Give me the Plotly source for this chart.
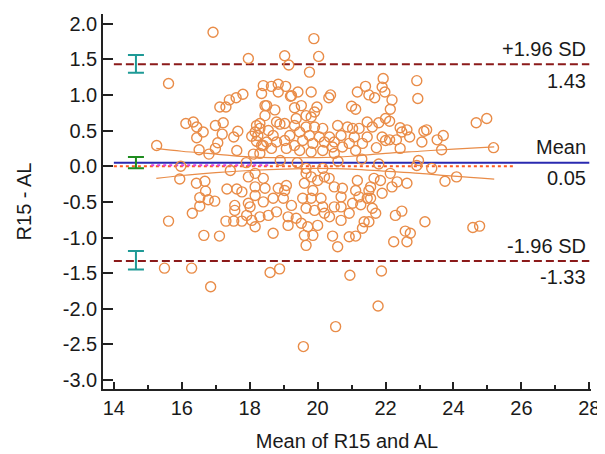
import plotly.graph_objects as go

# ---- data ----
mean_vals = [
    16.92, 17.96, 15.61, 19.89, 19.03, 20.03, 19.15, 19.76, 21.93, 22.92, 22.95, 21.90, 21.98, 22.19, 22.14,
    21.41, 21.51, 21.68, 21.17, 20.38, 20.33, 19.81, 21.00, 21.12, 18.40, 18.64, 18.84, 19.06, 18.84, 19.20,
    19.42, 18.35,
    17.80, 17.60, 17.40, 17.30, 17.12, 18.45, 18.45, 16.12, 16.34, 16.44, 16.63, 16.44, 16.99, 17.22, 17.19,
    17.06, 16.99, 17.53, 17.65, 16.51, 16.80, 17.62, 18.11, 15.26, 18.20, 18.30, 18.06, 18.24, 18.35, 18.20,
    19.23, 18.50, 18.74, 19.32, 19.52, 19.98, 19.91, 19.81, 19.66, 19.37, 18.30, 18.55, 18.79, 18.89, 19.03,
    18.50, 18.69, 18.79, 19.03, 19.18, 19.32, 19.47, 19.56, 19.32, 19.08, 19.66, 19.76, 19.91, 19.86, 20.05,
    20.15, 20.20, 20.35, 20.49, 20.59, 20.69, 20.88, 21.03, 21.22, 21.08, 21.46, 21.32, 20.93, 20.73, 20.44,
    19.81, 19.47, 18.64, 18.40, 18.30, 20.15, 21.12, 20.49, 18.16,
    24.67, 24.98, 22.00, 22.12, 21.80, 21.61, 21.46, 22.43, 22.63, 22.48, 23.21, 23.13, 23.70, 23.52, 23.07,
    22.71, 22.32, 22.12, 21.90, 22.00, 21.73, 22.43, 23.65, 25.18, 22.97, 22.92, 15.97,
    15.94, 16.43, 16.68, 16.70, 16.53, 16.78, 16.97, 16.53, 16.31, 15.61, 16.65, 17.11, 17.33, 17.43, 17.62,
    17.77, 17.96, 18.16, 18.16, 18.16, 17.56, 17.56, 17.96, 18.01, 17.91, 18.06, 18.16, 17.30, 17.53, 17.77,
    18.40, 18.45, 18.40, 18.69, 18.84, 19.08, 19.03, 18.99, 19.23, 18.79, 18.55, 18.30, 19.13, 19.13, 19.37,
    19.52, 19.66, 19.56, 19.61, 19.66, 19.81, 20.00, 20.15, 20.20, 20.34, 19.86, 20.10, 19.81, 19.91, 20.15,
    20.20, 20.35, 20.00, 19.71, 20.49, 20.73, 20.69, 20.49, 20.69, 20.93, 20.69, 21.12, 21.17, 21.22, 21.03,
    21.27, 21.46, 21.51, 21.37, 21.32, 18.69, 19.61, 19.86, 19.66, 20.44, 20.59, 20.93, 21.12,
    23.36, 23.75, 24.09, 21.66, 21.85, 22.14, 22.19, 22.34, 22.63, 21.90, 21.56, 21.56, 21.61, 21.71, 21.51,
    22.29, 22.48, 23.16, 22.58, 22.73, 22.24, 22.63, 24.57, 24.77,
    15.49, 16.29, 16.85, 18.60, 18.88, 20.95, 21.88, 21.78, 20.53, 19.58,
    18.90, 19.40, 20.60, 21.30, 17.90, 21.80, 19.66,
]
diff_vals = [
    1.88, 1.51, 1.16, 1.79, 1.55, 1.54, 1.42, 1.32, 1.23, 1.20, 0.95, 1.11, 1.04, 0.93, 0.80,
    1.12, 1.00, 0.96, 1.04, 1.00, 0.96, 1.04, 0.84, 0.80, 1.13, 1.12, 1.15, 1.12, 1.04, 0.98,
    1.04, 1.02,
    1.01, 0.96, 0.93, 0.83, 0.83, 0.85, 0.71, 0.60, 0.62, 0.55, 0.48, 0.40, 0.57, 0.61, 0.45,
    0.33, 0.25, 0.41, 0.49, 0.23, 0.17, 0.22, 0.17, 0.29, 0.57, 0.53, 0.42, 0.43, 0.29, 0.35,
    0.99, 0.85, 0.79, 0.82, 0.85, 0.83, 0.76, 0.69, 0.71, 0.67, 0.60, 0.50, 0.62, 0.59, 0.60,
    0.34, 0.43, 0.34, 0.36, 0.43, 0.57, 0.48, 0.36, 0.29, 0.25, 0.55, 0.43, 0.55, 0.32, 0.41,
    0.53, 0.34, 0.41, 0.34, 0.57, 0.43, 0.55, 0.53, 0.53, 0.41, 0.41, 0.32, 0.32, 0.27, 0.27,
    0.20, 0.22, 0.25, 0.29, 0.18, 0.22, 0.22, 0.18, 0.48,
    0.61, 0.67, 0.67, 0.63, 0.61, 0.55, 0.62, 0.54, 0.51, 0.48, 0.51, 0.49, 0.43, 0.37, 0.34,
    0.41, 0.37, 0.37, 0.41, 0.36, 0.26, 0.25, 0.23, 0.26, 0.08, 0.01, 0.00,
    -0.18, -0.24, -0.21, -0.35, -0.44, -0.47, -0.49, -0.56, -0.66, -0.77, -0.97, -0.98, -0.32, -0.06, -0.32,
    -0.36, -0.15, -0.10, -0.29, -0.41, -0.55, -0.62, -0.52, -0.57, -0.69, -0.76, -0.85, -0.77, -0.77, -0.77,
    -0.17, -0.31, -0.50, -0.45, -0.31, -0.27, -0.34, -0.45, -0.55, -0.64, -0.69, -0.71, -0.71, -0.83, -0.73,
    -0.80, -0.59, -0.45, -0.24, -0.10, -0.15, -0.20, -0.03, -0.15, -0.17, -0.34, -0.45, -0.45, -0.62, -0.57,
    -0.66, -0.71, -0.83, -0.85, -0.29, -0.31, -0.43, -0.57, -0.57, -0.66, -0.76, -0.34, -0.20, -0.43, -0.52,
    -0.54, -0.45, -0.34, -0.78, -0.87, -0.94, -0.97, -0.97, -1.11, -0.98, -1.13, -0.99, -0.98,
    -0.03, -0.21, -0.15, -0.17, -0.20, -0.10, -0.29, -0.22, -0.24, -0.38, -0.29, -0.45, -0.59, -0.66, -0.78,
    -0.69, -0.63, -0.78, -0.91, -0.94, -1.06, -1.06, -0.86, -0.84,
    -1.43, -1.43, -1.69, -1.49, -1.44, -1.53, -1.47, -1.96, -2.25, -2.53,
    0.08, 0.05, 0.07, 0.10, 0.05, 0.03, -0.03,
]

bias = 0.05
upper_loa = 1.43
lower_loa = -1.33
bias_ci = [-0.03, 0.13]
upper_ci = [1.31, 1.56]
lower_ci = [-1.45, -1.19]
ci_bar_x = 14.65

line_x_range = [14.0, 28.0]
zero_x_range = [14.0, 25.75]
magenta_x_range = [15.1, 18.6]

curve_x = [15.25, 16.0, 17.0, 18.0, 19.0, 20.0, 21.0, 22.0, 23.0, 24.0, 25.2]
curve_upper = [0.25, 0.21, 0.17, 0.13, 0.12, 0.12, 0.14, 0.18, 0.21, 0.24, 0.27]
curve_lower = [-0.17, -0.13, -0.09, -0.06, -0.04, -0.03, -0.04, -0.07, -0.10, -0.14, -0.18]

y_tick_vals = [2.0, 1.5, 1.0, 0.5, 0.0, -0.5, -1.0, -1.5, -2.0, -2.5, -3.0]
y_tick_text = ["2.0", "1.5", "1.0", "0.5", "0.0", "-0.5", "-1.0", "-1.5", "-2.0", "-2.5", "-3.0"]
x_tick_vals = [14, 16, 18, 20, 22, 24, 26, 28]

ORANGE = "#E98C48"
MAROON = "#8B1A1A"
BLUE = "#2A2AB0"
TEAL = "#1E9A96"
GREEN = "#1E8C1E"
FONT = "Liberation Sans, Arial, sans-serif"
TXT = "#1a1a1a"
FS = 20

fig = go.Figure()

# zero line (dotted orange) and magenta segment
fig.add_trace(go.Scatter(x=zero_x_range, y=[0, 0], mode="lines",
                         line=dict(color="#FF5A1F", width=2, dash="dot"), hoverinfo="skip"))
fig.add_trace(go.Scatter(x=magenta_x_range, y=[0.012, 0.012], mode="lines",
                         line=dict(color="#E040E0", width=2, dash="dot"), hoverinfo="skip"))
# mean line
fig.add_trace(go.Scatter(x=line_x_range, y=[bias, bias], mode="lines",
                         line=dict(color=BLUE, width=2), hoverinfo="skip"))
# limits of agreement
for v in (upper_loa, lower_loa):
    fig.add_trace(go.Scatter(x=line_x_range, y=[v, v], mode="lines",
                             line=dict(color=MAROON, width=2, dash="8px,4px"), hoverinfo="skip"))
# CI curves
fig.add_trace(go.Scatter(x=curve_x, y=curve_upper, mode="lines", line=dict(color=ORANGE, width=1.2, shape="spline")))
fig.add_trace(go.Scatter(x=curve_x, y=curve_lower, mode="lines", line=dict(color=ORANGE, width=1.2, shape="spline")))

# scatter points
fig.add_trace(go.Scatter(x=mean_vals, y=diff_vals, mode="markers",
                         marker=dict(symbol="circle-open", size=10, color=ORANGE, line=dict(width=1.4))))

# CI error bars
def ci_bar(lo, hi, color):
    c = (lo + hi) / 2
    fig.add_trace(go.Scatter(x=[ci_bar_x], y=[c], mode="markers",
                             marker=dict(size=1, color="rgba(0,0,0,0)"),
                             error_y=dict(type="data", symmetric=False, array=[hi - c], arrayminus=[c - lo],
                                          color=color, thickness=2, width=8)))

ci_bar(*upper_ci, TEAL)
ci_bar(*lower_ci, TEAL)
ci_bar(*bias_ci, GREEN)

# right-side labels
labels = [
    ("+1.96 SD", upper_loa, 15), (f"{upper_loa:.2f}", upper_loa, -17),
    ("Mean", bias, 16), (f"{bias:.2f}", bias, -15),
    ("-1.96 SD", lower_loa, 15), (f"{lower_loa:.2f}", lower_loa, -16),
]
for text, yv, shift in labels:
    fig.add_annotation(x=28, y=yv, xref="x", yref="y", text=text, showarrow=False,
                       xanchor="right", yanchor="middle", xshift=-1, yshift=shift,
                       font=dict(family=FONT, size=FS, color=TXT))

# page body has an 8px default margin, so the figure is 8px smaller than the window
fig.update_layout(
    width=597, height=446,
    margin=dict(l=95, r=9, t=5, b=64),
    paper_bgcolor="white", plot_bgcolor="white",
    showlegend=False,
    font=dict(family=FONT, size=FS, color=TXT),
)
fig.update_xaxes(range=[13.68, 28.05], tickvals=x_tick_vals, ticks="inside", ticklen=7, tickwidth=1.5,
                 tickcolor="#222", showline=True, linecolor="#222", linewidth=1.5, showgrid=False,
                 zeroline=False, minor=dict(ticks="inside", dtick=1, tick0=14, ticklen=4, tickcolor="#222"),
                 ticklabeloverflow="allow",
                 title=dict(text="Mean of R15 and AL", font=dict(family=FONT, size=FS, color=TXT), standoff=16),
                 tickfont=dict(family=FONT, size=FS, color=TXT))
fig.update_yaxes(range=[-3.125, 2.135], tickvals=y_tick_vals, ticktext=y_tick_text, ticks="inside", ticklen=10,
                 tickwidth=1.5, tickcolor="#222", showline=True, linecolor="#222", linewidth=1.5, showgrid=False,
                 zeroline=False,
                 title=dict(text="R15 - AL", font=dict(family=FONT, size=FS, color=TXT), standoff=26),
                 tickfont=dict(family=FONT, size=FS, color=TXT))

fig.write_html("out.html")
